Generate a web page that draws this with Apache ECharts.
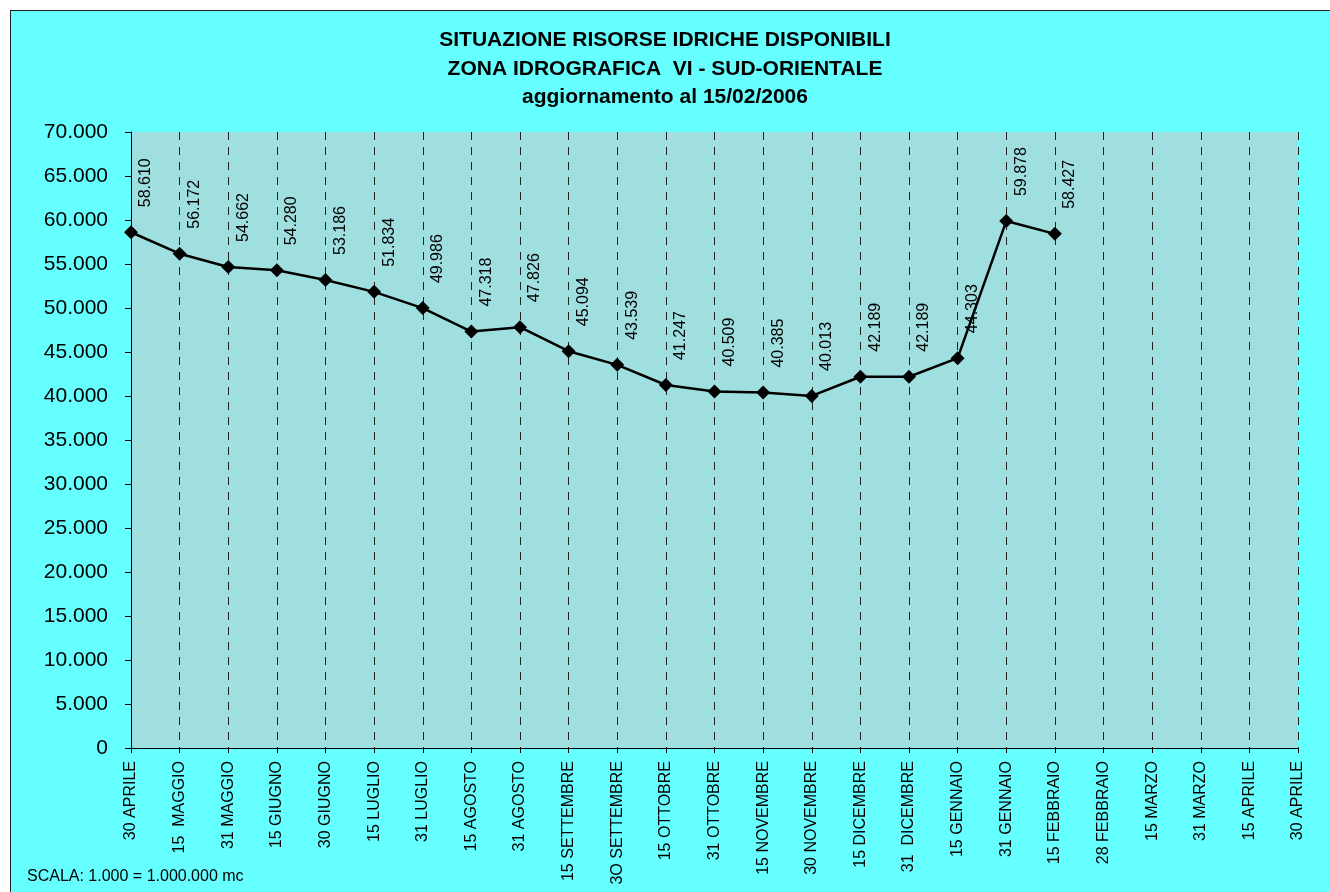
<!DOCTYPE html>
<html>
<head>
<meta charset="utf-8">
<script src="https://cdn.jsdelivr.net/npm/echarts@6/dist/echarts.min.js"></script>
<style>
  html, body { margin: 0; padding: 0; background: #fff; }
  #frame {
    position: absolute; left: 10px; top: 10px; width: 1330px; height: 892px;
    background: #66ffff; border-left: 1px solid #222; border-top: 1px solid #222;
  }
  #chart { position: absolute; left: 0; top: 0; width: 1330px; height: 892px; }
</style>
</head>
<body>
<div id="frame"></div>
<div id="chart"></div>
<script>
const titleLines = [
  'SITUAZIONE RISORSE IDRICHE DISPONIBILI',
  'ZONA IDROGRAFICA  VI - SUD-ORIENTALE',
  'aggiornamento al 15/02/2006'
]
const scaleNote = 'SCALA: 1.000 = 1.000.000 mc'

const dates = [
  '30 APRILE', '15  MAGGIO', '31 MAGGIO', '15 GIUGNO', '30 GIUGNO',
  '15 LUGLIO', '31 LUGLIO', '15 AGOSTO', '31 AGOSTO', '15 SETTEMBRE',
  '3O SETTEMBRE', '15 OTTOBRE', '31 OTTOBRE', '15 NOVEMBRE', '30 NOVEMBRE',
  '15 DICEMBRE', '31  DICEMBRE', '15 GENNAIO', '31 GENNAIO', '15 FEBBRAIO',
  '28 FEBBRAIO', '15 MARZO', '31 MARZO', '15 APRILE', '30 APRILE'
]

// volumes in thousands of mc (1.000 = 1.000.000 mc)
const volumes = [
  58610, 56172, 54662, 54280, 53186,
  51834, 49986, 47318, 47826, 45094,
  43539, 41247, 40509, 40385, 40013,
  42189, 42189, 44303, 59878, 58427,
  null, null, null, null, null
]

const fmt = v => String(Math.round(v)).replace(/\B(?=(\d{3})+(?!\d))/g, '.')

const chart = echarts.init(document.getElementById('chart'))

const option = {
  backgroundColor: 'transparent',
  animation: false,
  textStyle: { fontFamily: 'Liberation Sans, Arial, sans-serif' },
  title: {
    text: titleLines.join('\n'),
    left: 'center',
    top: 21,
    textStyle: { fontSize: 21, fontWeight: 'bold', color: '#000', lineHeight: 28.5 }
  },
  graphic: [{
    type: 'text',
    left: 27,
    top: 869,
    style: { text: scaleNote, fontSize: 16, fill: '#000', fontFamily: 'Liberation Sans, Arial, sans-serif' }
  }],
  grid: {
    left: 131, right: 32, top: 132, bottom: 144,
    show: true, backgroundColor: '#a0dfe0', borderWidth: 0
  },
  xAxis: {
    type: 'category',
    boundaryGap: false,
    data: dates,
    axisLine: { lineStyle: { color: '#000', width: 1 } },
    axisTick: { show: true, length: 5, interval: 0, lineStyle: { color: '#000' } },
    axisLabel: { interval: 0, rotate: 90, fontSize: 16, color: '#000', margin: 13 },
    splitLine: { show: true, interval: 0, lineStyle: { color: '#222', type: [8, 7], width: 1 } }
  },
  yAxis: {
    type: 'value',
    min: 0, max: 70000, interval: 5000,
    axisLine: { show: true, lineStyle: { color: '#000', width: 1 } },
    axisTick: { show: true, length: 6, lineStyle: { color: '#000' } },
    axisLabel: { fontSize: 21, color: '#000', margin: 23, formatter: fmt },
    splitLine: { show: false }
  },
  series: [{
    type: 'line',
    data: volumes,
    connectNulls: false,
    symbol: 'diamond',
    symbolSize: 14,
    lineStyle: { color: '#000', width: 2.5 },
    itemStyle: { color: '#000' },
    label: {
      show: true,
      position: 'top',
      rotate: 90,
      align: 'left',
      verticalAlign: 'middle',
      distance: 6,
      // offset is in the rotated frame: [upward, rightward]
      offset: [12, 15],
      fontSize: 16,
      color: '#000',
      formatter: p => fmt(p.value)
    }
  }]
}

chart.setOption(option)
</script>
</body>
</html>
